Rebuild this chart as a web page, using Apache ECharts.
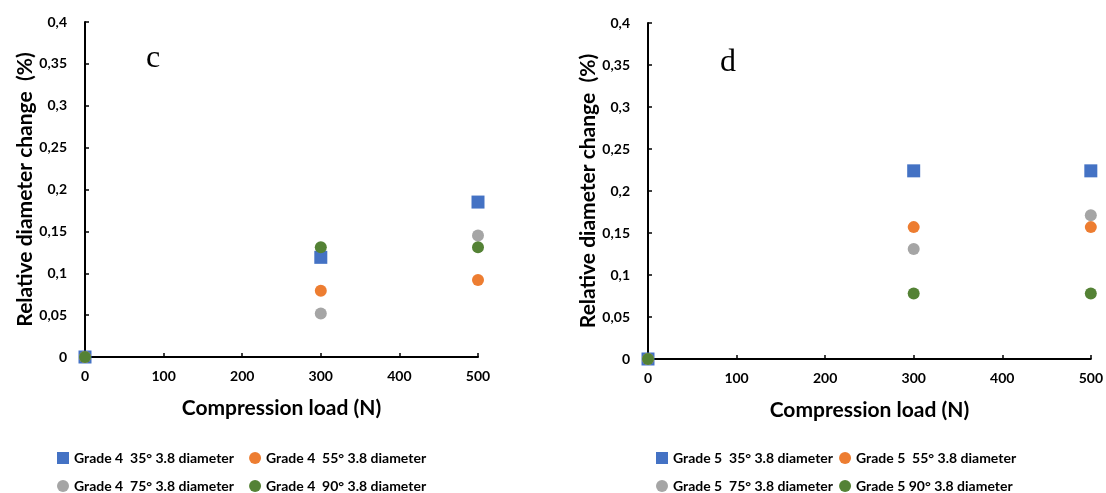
<!DOCTYPE html>
<html>
<head>
<meta charset="utf-8">
<script src="https://cdn.jsdelivr.net/npm/echarts@6/dist/echarts.min.js"></script>
<style>
  html, body { margin: 0; padding: 0; background: #fff; }
  #chart { width: 1106px; height: 493px; }
</style>
</head>
<body>
<div id="chart"></div>
<script>
// Compression loads (N)
const loads = [0, 300, 500];

// Panel c: Grade 4, relative diameter change (%)
const grade4_35 = [0, 0.119, 0.185];
const grade4_55 = [0, 0.079, 0.092];
const grade4_75 = [0, 0.052, 0.145];
const grade4_90 = [0, 0.131, 0.131];

// Panel d: Grade 5, relative diameter change (%)
const grade5_35 = [0, 0.224, 0.224];
const grade5_55 = [0, 0.157, 0.157];
const grade5_75 = [0, 0.131, 0.171];
const grade5_90 = [0, 0.078, 0.078];

const namesC = ['Grade 4  35° 3.8 diameter', 'Grade 4  55° 3.8 diameter',
                'Grade 4  75° 3.8 diameter', 'Grade 4  90° 3.8 diameter'];
const namesD = ['Grade 5  35° 3.8 diameter', 'Grade 5  55° 3.8 diameter',
                'Grade 5  75° 3.8 diameter', 'Grade 5 90° 3.8 diameter'];

const colors = ['#4472C4', '#ED7D31', '#A5A5A5', '#548235'];
const symbols = ['rect', 'circle', 'circle', 'circle'];
const sizes = [13, 12, 12, 12];

const FONT = 'Lato, "Open Sans", sans-serif';

function pairs(vals) { return loads.map((x, i) => [x, vals[i]]); }

function xAxis(gridIndex) {
  return {
    gridIndex, type: 'value', min: 0, max: 500, interval: 100,
    name: 'Compression load (N)', nameLocation: 'middle', nameGap: 41,
    nameTextStyle: { fontFamily: FONT, fontWeight: 'bold', fontSize: 21, color: '#000' },
    axisLine: { lineStyle: { color: '#000', width: 2 } },
    axisTick: { inside: true, length: 4, lineStyle: { color: '#000', width: 1.5 } },
    axisLabel: { fontFamily: FONT, fontWeight: 'bold', fontSize: 14, color: '#000', margin: 12 },
    splitLine: { show: false }
  };
}

function yAxis(gridIndex) {
  return {
    gridIndex, type: 'value', min: 0, max: 0.4, interval: 0.05,
    name: 'Relative diameter change  (%)', nameLocation: 'middle', nameGap: 48,
    nameTextStyle: { fontFamily: FONT, fontWeight: 'bold', fontSize: 21, color: '#000' },
    axisLine: { lineStyle: { color: '#000', width: 2 } },
    axisTick: { inside: true, length: 4, lineStyle: { color: '#000', width: 1.5 } },
    axisLabel: {
      fontFamily: FONT, fontWeight: 'bold', fontSize: 14, color: '#000', margin: 18,
      formatter: v => String(Math.round(v * 100) / 100).replace('.', ',')
    },
    splitLine: { show: false }
  };
}

// Later series are drawn over earlier ones
function scatter(name, vals, k, gridIndex) {
  return {
    type: 'scatter', name, data: pairs(vals),
    xAxisIndex: gridIndex, yAxisIndex: gridIndex,
    symbol: symbols[k], symbolSize: sizes[k],
    itemStyle: { color: colors[k], opacity: 1 }, z: 2 + k
  };
}

function legend(names, left, top, gap) {
  return {
    data: names, left, top, padding: 0,
    orient: 'horizontal', itemGap: gap, itemWidth: 12, itemHeight: 12,
    textStyle: { fontFamily: FONT, fontWeight: 'bold', fontSize: 14, color: '#000' }
  };
}

const seriesC = [grade4_35, grade4_55, grade4_75, grade4_90].map((v, k) => scatter(namesC[k], v, k, 0));
const seriesD = [grade5_35, grade5_55, grade5_75, grade5_90].map((v, k) => scatter(namesD[k], v, k, 1));

const chart = echarts.init(document.getElementById('chart'), null, { renderer: 'canvas' });
chart.setOption({
  animation: false,
  backgroundColor: '#fff',
  grid: [
    { left: 85, top: 22, width: 393, height: 335 },
    { left: 648, top: 23, width: 443, height: 336 }
  ],
  xAxis: [xAxis(0), xAxis(1)],
  yAxis: [yAxis(0), yAxis(1)],
  legend: [
    legend(namesC.slice(0, 2), 57, 451, 15),
    legend(namesC.slice(2, 4), 57, 479, 15),
    legend(namesD.slice(0, 2), 656, 451, 6),
    legend(namesD.slice(2, 4), 656, 479, 6)
  ],
  graphic: [
    { type: 'text', left: 146, top: 43, style: { text: 'c', font: '32px "Liberation Serif", "Times New Roman", serif', fill: '#000' } },
    { type: 'text', left: 720, top: 47, style: { text: 'd', font: '32px "Liberation Serif", "Times New Roman", serif', fill: '#000' } }
  ],
  series: [...seriesC, ...seriesD]
});
</script>
</body>
</html>
